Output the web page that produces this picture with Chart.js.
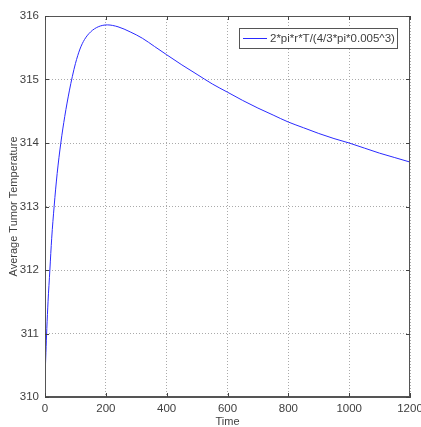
<!DOCTYPE html>
<html>
<head>
<meta charset="utf-8">
<script src="https://cdn.jsdelivr.net/npm/chart.js@4/dist/chart.umd.min.js"></script>
<style>
  html, body { margin: 0; padding: 0; background: #ffffff; }
  canvas { display: block; }
</style>
</head>
<body>
<canvas id="c" width="421" height="427"></canvas>
<script>
// ---- data ----
const seriesLabel = "2*pi*r*T/(4/3*pi*0.005^3)";
const times = [0, 3, 6, 10, 16, 22, 30, 40, 52, 65, 80, 90, 100, 115, 130, 150, 175, 205, 240, 280, 320, 360, 400, 450, 500, 550, 600, 650, 700, 750, 800, 850, 900, 950, 1000, 1050, 1100, 1150, 1200];
const temperatures = [310.3, 310.7, 311.08, 311.5, 312.0, 312.5, 313.0, 313.52, 314.0, 314.42, 314.82, 315.05, 315.25, 315.48, 315.63, 315.75, 315.83, 315.86, 315.83, 315.75, 315.65, 315.52, 315.39, 315.23, 315.08, 314.93, 314.8, 314.67, 314.55, 314.44, 314.33, 314.24, 314.15, 314.07, 314.0, 313.92, 313.84, 313.77, 313.7];
const xTicks = [0, 200, 400, 600, 800, 1000, 1200];
const yTicks = [310, 311, 312, 313, 314, 315, 316];
const xTitle = "Time";
const yTitle = "Average Tumor Temperature";

const points = times.map((t, i) => ({ x: t, y: temperatures[i] }));
const FONT = "'Liberation Sans', Arial, sans-serif";
const TEXT = '#404040';
const LINE = '#2a2aff';

const framePlugin = {
  id: 'frame',
  afterDraw(chart) {
    const ctx = chart.ctx;
    const a = chart.chartArea;
    const xs = chart.scales.x, ys = chart.scales.y;
    ctx.save();
    ctx.strokeStyle = '#555555';
    ctx.lineWidth = 1;
    ctx.strokeRect(Math.round(a.left) + 0.5, Math.round(a.top) + 0.5,
                   Math.round(a.right - a.left) - 1, Math.round(a.bottom - a.top) - 1);
    // inward tick marks
    ctx.strokeStyle = '#444444';
    ctx.beginPath();
    const tl = 4;
    xs.ticks.forEach(t => {
      const px = Math.round(xs.getPixelForValue(t.value)) + 0.5;
      ctx.moveTo(px, a.bottom); ctx.lineTo(px, a.bottom - tl);
      ctx.moveTo(px, a.top); ctx.lineTo(px, a.top + tl);
    });
    ys.ticks.forEach(t => {
      const py = Math.round(ys.getPixelForValue(t.value)) + 0.5;
      ctx.moveTo(a.left, py); ctx.lineTo(a.left + tl, py);
      ctx.moveTo(a.right, py); ctx.lineTo(a.right - tl, py);
    });
    ctx.stroke();
    // legend box (inside plot, top right)
    const ds = chart.data.datasets[0];
    const bx = 239.5, by = 28.5, bw = 158, bh = 20;
    ctx.fillStyle = '#ffffff';
    ctx.fillRect(bx, by, bw, bh);
    ctx.strokeStyle = '#555555';
    ctx.strokeRect(bx, by, bw, bh);
    ctx.strokeStyle = ds.borderColor;
    ctx.lineWidth = 1;
    ctx.beginPath();
    ctx.moveTo(243, by + bh / 2); ctx.lineTo(267, by + bh / 2);
    ctx.stroke();
    ctx.fillStyle = TEXT;
    ctx.font = "11.5px " + FONT;
    ctx.textAlign = 'left';
    ctx.textBaseline = 'middle';
    ctx.fillText(ds.label, 270, by + bh / 2 + 0.5);
    ctx.restore();
  }
};

new Chart(document.getElementById('c'), {
  type: 'line',
  data: {
    datasets: [{
      label: seriesLabel,
      data: points,
      borderColor: LINE,
      borderWidth: 1,
      pointRadius: 0,
      fill: false,
      cubicInterpolationMode: 'monotone'
    }]
  },
  options: {
    responsive: false,
    animation: false,
    devicePixelRatio: 1,
    layout: { padding: { top: 16, right: 11, left: 0, bottom: 0 } },
    plugins: { legend: { display: false }, tooltip: { enabled: false } },
    scales: {
      x: {
        type: 'linear',
        min: 0, max: 1200,
        afterBuildTicks(scale) { scale.ticks = xTicks.map(v => ({ value: v })); },
        afterFit(scale) { scale.height = 30; scale.paddingLeft = 0; scale.paddingRight = 0; },
        ticks: { color: TEXT, font: { family: FONT, size: 11.5 }, padding: 5, maxRotation: 0, autoSkip: false,
                 callback: v => String(v) },
        grid: { color: '#aaaaaa', lineWidth: 1, drawTicks: false, tickLength: 0 },
        border: { display: true, color: '#555555', dash: [1, 2] },
        title: { display: true, text: xTitle, color: TEXT, font: { family: FONT, size: 11, lineHeight: 1 }, padding: { top: 0, bottom: 0 } }
      },
      y: {
        type: 'linear',
        min: 310, max: 316,
        afterBuildTicks(scale) { scale.ticks = yTicks.map(v => ({ value: v })); },
        afterFit(scale) { scale.width = 45; scale.paddingTop = 0; scale.paddingBottom = 0; },
        ticks: { color: TEXT, font: { family: FONT, size: 11.5 }, padding: 6, autoSkip: false,
                 callback: v => String(v) },
        grid: { color: '#aaaaaa', lineWidth: 1, drawTicks: false, tickLength: 0 },
        border: { display: true, color: '#555555', dash: [1, 2] },
        title: { display: true, text: yTitle, color: TEXT, font: { family: FONT, size: 11, lineHeight: 1.2 }, padding: { top: 7, bottom: 0 } }
      }
    }
  },
  plugins: [framePlugin]
});
</script>
</body>
</html>
